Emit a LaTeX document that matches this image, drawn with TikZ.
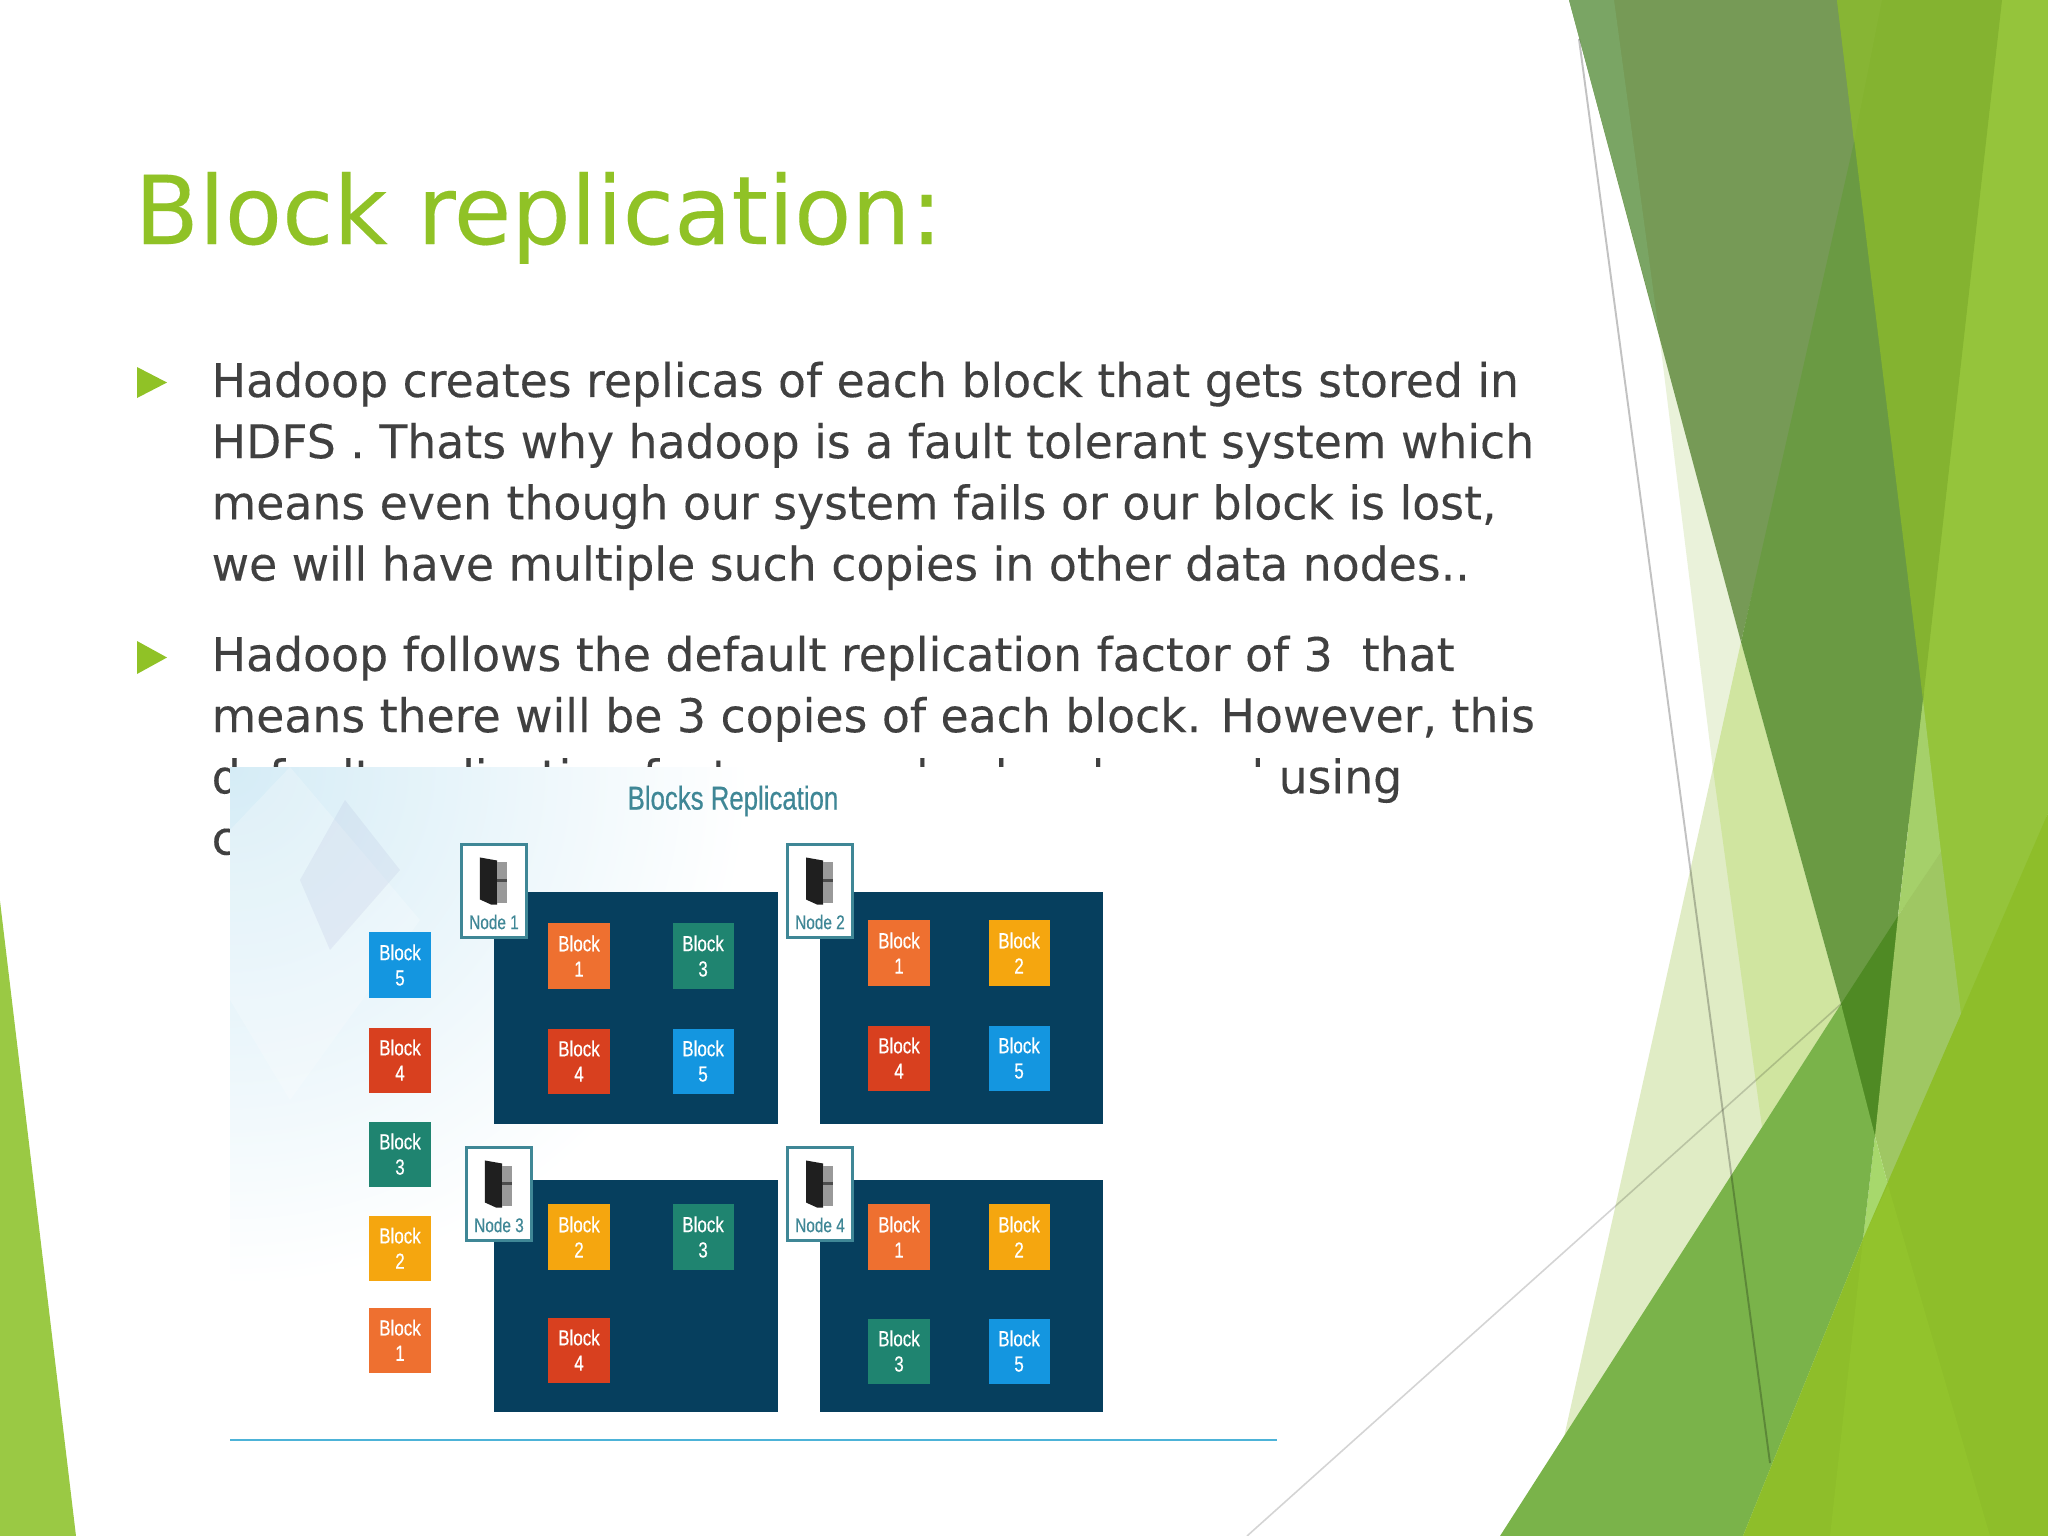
\documentclass[tikz,border=0pt]{standalone}
\usepackage{fontspec}
\usepackage{tikz}
\usetikzlibrary{calc}
\setmainfont[FakeStretch=0.985,FakeBold=0.15]{DejaVu Sans}
\newfontfamily\imgfont[FakeStretch=0.78,FakeBold=0.5]{Liberation Sans}
\definecolor{accent}{HTML}{90C226}
\definecolor{bodytxt}{HTML}{404040}
\definecolor{panel}{HTML}{063F5E}
\definecolor{tealtxt}{HTML}{3F8796}
\definecolor{skyfade}{HTML}{D5ECF6}
\definecolor{rule}{HTML}{4DB3D8}
\definecolor{bone}{HTML}{EE7030}
\definecolor{btwo}{HTML}{F5A60F}
\definecolor{bthree}{HTML}{1F8470}
\definecolor{bfour}{HTML}{D8401F}
\definecolor{bfive}{HTML}{1496E0}
\definecolor{ga}{HTML}{E0ECC5}
\definecolor{gb}{HTML}{EAF2DA}
\definecolor{gc}{HTML}{D0E5A0}
\definecolor{gd}{HTML}{769A56}
\definecolor{ge}{HTML}{7AA564}
\definecolor{gf}{HTML}{6A9A43}
\definecolor{gg}{HTML}{84B330}
\definecolor{gh}{HTML}{87B534}
\definecolor{gi}{HTML}{4F8A24}
\definecolor{gj}{HTML}{7AB34A}
\definecolor{gk}{HTML}{95C43B}
\definecolor{gl}{HTML}{A5D06A}
\definecolor{gm}{HTML}{9FC763}
\definecolor{gn}{HTML}{A7D86C}
\definecolor{go}{HTML}{8EBE2A}
\definecolor{gp}{HTML}{92C32C}
\definecolor{gq}{HTML}{9AC944}
\tikzset{
  panelbox/.style={fill=panel,minimum width=2.83cm,minimum height=2.32cm,inner sep=0pt},
  blk/.style={fill=#1,text=white,minimum width=0.61cm,minimum height=0.65cm,inner sep=0pt,align=center,
    font=\imgfont\fontsize{6.2}{7.2}\selectfont},
  srvbox/.style={draw=tealtxt,line width=0.7pt,fill=white,minimum width=0.65cm,minimum height=0.93cm,inner sep=0pt,
    path picture={
      \fill[black!88] ([xshift=-0.14cm,yshift=-0.13cm]path picture bounding box.north) -- ++(0.17cm,-0.03cm) -- ++(0,-0.44cm) -- ++(-0.06cm,0) -- ++(-0.11cm,0.05cm) -- cycle;
      \fill[black!40] ([xshift=0.03cm,yshift=-0.18cm]path picture bounding box.north) rectangle ++(0.1cm,-0.4cm);
      \fill[black!70] ([xshift=0.03cm,yshift=-0.34cm]path picture bounding box.north) rectangle ++(0.1cm,-0.03cm);
    }},
  srvlab/.style={text=tealtxt,inner sep=0pt,font=\imgfont\fontsize{5.6}{7}\selectfont},
  bodyline/.style={anchor=north west,inner sep=0pt,text=bodytxt,align=left,font=\fontsize{13.2}{17.4}\selectfont}
}
\begin{document}
\begin{tikzpicture}[x=0.01cm,y=-0.01cm]
\useasboundingbox (0,0) rectangle (2048,1536);
\fill[white] (0,0) rectangle (2048,1536);

% Draw the shapes on the right of the slide
\fill[ga] (1741,642) -- (1542,1536) -- (1900,1536) -- (1841,1004) -- cycle;
\fill[gb] (1659,333) -- (1741,642) -- (1713,769) -- cycle;
\fill[gc] (1741,642) -- (1713,769) -- (1762,1127) -- (1841,1004) -- cycle;
\fill[gk] (1990,0) -- (2048,0) -- (2048,813) -- (1950,1100) -- (1900,1000) -- (1915,700) -- cycle;
\fill[gd] (1569,0) -- (1845,0) -- (1858,142) -- (1741,642) -- cycle;
\fill[ge] (1569,0) -- (1614,0) -- (1659,333) -- cycle;
\fill[gf] (1854,142) -- (1860,142) -- (1924,690) -- (1923,700) -- (1898,916) -- (1875,1000) -- (1841,1004) -- (1741,642) -- cycle;
\fill[gg] (1837,0) -- (2002,0) -- (1923,700) -- cycle;
\fill[gh] (1837,0) -- (1882,0) -- (1854,142) -- cycle;
\fill[gi] (1841,1004) -- (1898,916) -- (1905,930) -- (1880,1136) -- (1860,1136) -- cycle;
\fill[gl] (1923,700) -- (1941,852) -- (1930,870) -- (1898,916) -- cycle;
\fill[gm] (1898,916) -- (1941,852) -- (1961,1014) -- (1888,1185) -- (1875,1136) -- cycle;
\fill[gn] (1875,1136) -- (1888,1185) -- (1863,1239) -- cycle;
\fill[gj] (1500,1536) -- (1841,1004) -- (1875,1136) -- (1863,1239) -- (1743,1536) -- cycle;
\fill[go] (1743,1536) -- (1863,1239) -- (1961,1014) -- (2048,813) -- (2048,1536) -- cycle;
\fill[gp] (1830,1536) -- (1863,1239) -- (1888,1185) -- (1990,1536) -- cycle;
% Draw the wedge on the left
\fill[gq] (0,901) -- (76,1536) -- (0,1536) -- cycle;

% Draw the two thin lines
\coordinate (u) at (1579,39);
\coordinate (v) at (1770,1463);
\coordinate (w) at (1247,1536);
\coordinate (z) at (1841,1004);
\draw[black,opacity=0.24,line width=0.55pt] (u) -- (v);
\draw[black,opacity=0.17,line width=0.45pt] (w) -- (z);

% Draw the title and the text
\node[anchor=base west,inner sep=0pt,text=accent,font=\fontsize{27}{32}\selectfont](t) at (134,244){Block replication:};
\node[bodyline](p) at (211,361){Hadoop creates replicas of each block that gets stored in\\HDFS . Thats why hadoop is a fault tolerant system which\\means even though our system fails or our block is lost,\\we will have multiple such copies in other data nodes..};
\node[bodyline](q) at (211,635){Hadoop follows the default replication factor of 3 \ that\\means there will be 3 copies of each block. However, this\\default replication factor can also be changed using\\c};
\fill[accent] (137,367) -- (167,382.5) -- (137,398) -- cycle;
\fill[accent] (137,641) -- (167,657.5) -- (137,674) -- cycle;

% Draw the inserted picture
\fill[white] (230,767) rectangle (1275,1441);
\begin{scope}
\clip (230,767) rectangle (1275,1441);
\shade[inner color=skyfade,outer color=white] (230,767) circle (520);
\fill[white,opacity=0.22] (290,767) -- (420,920) -- (290,1100) -- (230,1000) -- (230,830) -- cycle;
\fill[blue!30!gray,opacity=0.07] (345,800) -- (400,870) -- (330,950) -- (300,880) -- cycle;
\end{scope}
\node[text=tealtxt,inner sep=0pt,font=\imgfont\fontsize{9.4}{12}\selectfont](h) at (733,801){Blocks Replication};
\draw[rule,line width=0.8pt] (230,1440) -- (1277,1440);

% Draw the blocks on the left
\node[blk=bfive](a) at (400,965){Block\\5};
\node[blk=bfour,below of=a,node distance=0.95cm](b){Block\\4};
\node[blk=bthree,below of=b,node distance=0.94cm](c){Block\\3};
\node[blk=btwo,below of=c,node distance=0.94cm](d){Block\\2};
\node[blk=bone,below of=d,node distance=0.92cm](e){Block\\1};

% Draw the four panels
\node[panelbox](p1) at (636,1008){};
\node[panelbox,right of=p1,node distance=3.25cm](p2){};
\node[panelbox,below of=p1,node distance=2.88cm](p3){};
\node[panelbox,right of=p3,node distance=3.25cm](p4){};
\node[srvbox](n1) at (494,891){};
\node[srvbox](n2) at (820,891){};
\node[srvbox](n3) at (499,1194){};
\node[srvbox](n4) at (820,1194){};
\node[srvlab,below of=n1,node distance=0.31cm](l1){Node 1};
\node[srvlab,below of=n2,node distance=0.31cm](l2){Node 2};
\node[srvlab,below of=n3,node distance=0.31cm](l3){Node 3};
\node[srvlab,below of=n4,node distance=0.31cm](l4){Node 4};

% Draw the blocks inside the panels
\node[blk=bone](a1) at (579,956){Block\\1};
\node[blk=bthree,right of=a1,node distance=1.24cm](a2){Block\\3};
\node[blk=bfour,below of=a1,node distance=1.05cm](a3){Block\\4};
\node[blk=bfive,right of=a3,node distance=1.24cm](a4){Block\\5};
\node[blk=bone](b1) at (899,953){Block\\1};
\node[blk=btwo,right of=b1,node distance=1.2cm](b2){Block\\2};
\node[blk=bfour,below of=b1,node distance=1.05cm](b3){Block\\4};
\node[blk=bfive,right of=b3,node distance=1.2cm](b4){Block\\5};
\node[blk=btwo](c1) at (579,1237){Block\\2};
\node[blk=bthree,right of=c1,node distance=1.24cm](c2){Block\\3};
\node[blk=bfour,below of=c1,node distance=1.13cm](c3){Block\\4};
\node[blk=bone](d1) at (899,1237){Block\\1};
\node[blk=btwo,right of=d1,node distance=1.2cm](d2){Block\\2};
\node[blk=bthree,below of=d1,node distance=1.14cm](d3){Block\\3};
\node[blk=bfive,right of=d3,node distance=1.2cm](d4){Block\\5};
\end{tikzpicture}
\end{document}
